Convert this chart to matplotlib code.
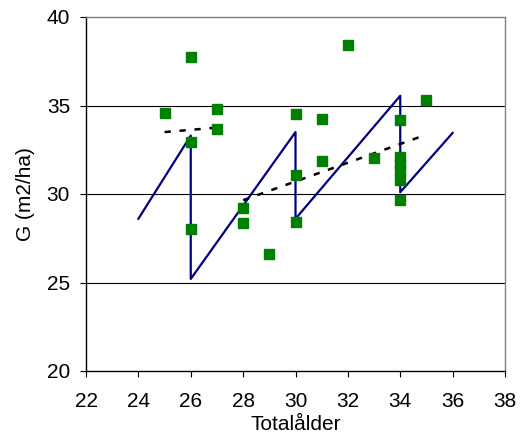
import matplotlib
matplotlib.use("Agg")
import matplotlib.pyplot as plt

plt.rcParams['font.family'] = ['Liberation Sans', 'DejaVu Sans']

# observed stands (green squares)
obs_age = [26, 25, 27, 27, 26, 32, 35, 30, 31, 34, 31, 30, 33,
           34, 34, 34, 34, 34, 26, 28, 28, 29, 30]
obs_g = [37.75, 34.6, 34.8, 33.7, 32.95, 38.4, 35.3, 34.5, 34.25, 34.2, 31.85, 31.05, 32.05,
         32.1, 31.7, 31.3, 30.8, 29.65, 28.05, 29.2, 28.35, 26.6, 28.4]

# modelled development with thinnings (sawtooth)
model_age = [24, 26, 26, 30, 30, 34, 34, 36]
model_g = [28.6, 33.3, 25.2, 33.5, 28.6, 35.55, 30.1, 33.45]

# trend lines (dashed)
trend1_age = [25, 27]
trend1_g = [33.5, 33.75]
trend2_age = [28, 34.8]
trend2_g = [29.65, 33.25]

fig = plt.figure(figsize=(5.23, 4.37), dpi=100)
ax = fig.add_axes([86 / 523, 1 - 371 / 437, 419 / 523, 354 / 437])

for y in [25, 30, 35]:
    ax.axhline(y, color='black', linewidth=0.8, zorder=1)

ax.plot(model_age, model_g, color='#000080', linewidth=1.6, zorder=2)
ax.plot(trend1_age, trend1_g, color='black', linewidth=1.8, linestyle=(0, (2.5, 3.5)), zorder=3)
ax.plot(trend2_age, trend2_g, color='black', linewidth=1.8, linestyle=(0, (2.5, 3.5)), zorder=3)
ax.plot(obs_age, obs_g, linestyle='none', marker='s', markersize=7.5,
        color='#008000', markeredgecolor='#008000', zorder=4)

ax.set_xlim(22, 38)
ax.set_ylim(20, 40)
ax.set_xticks(range(22, 39, 2))
ax.set_yticks(range(20, 41, 5))
ax.tick_params(direction='out', length=4.5, width=0.8, labelsize=15, color='black')
ax.tick_params(axis='x', pad=10.5)
ax.tick_params(axis='y', pad=7)

ax.spines['left'].set_color('black')
ax.spines['bottom'].set_color('black')
ax.spines['top'].set_color('#808080')
ax.spines['right'].set_color('#808080')
for s in ax.spines.values():
    s.set_linewidth(1.0)

ax.set_xlabel('Totalålder', fontsize=15, labelpad=3)
ax.set_ylabel('G (m2/ha)', fontsize=15)
ax.yaxis.set_label_coords(-0.122, 0.5)

fig.savefig('out.png', dpi=100)
